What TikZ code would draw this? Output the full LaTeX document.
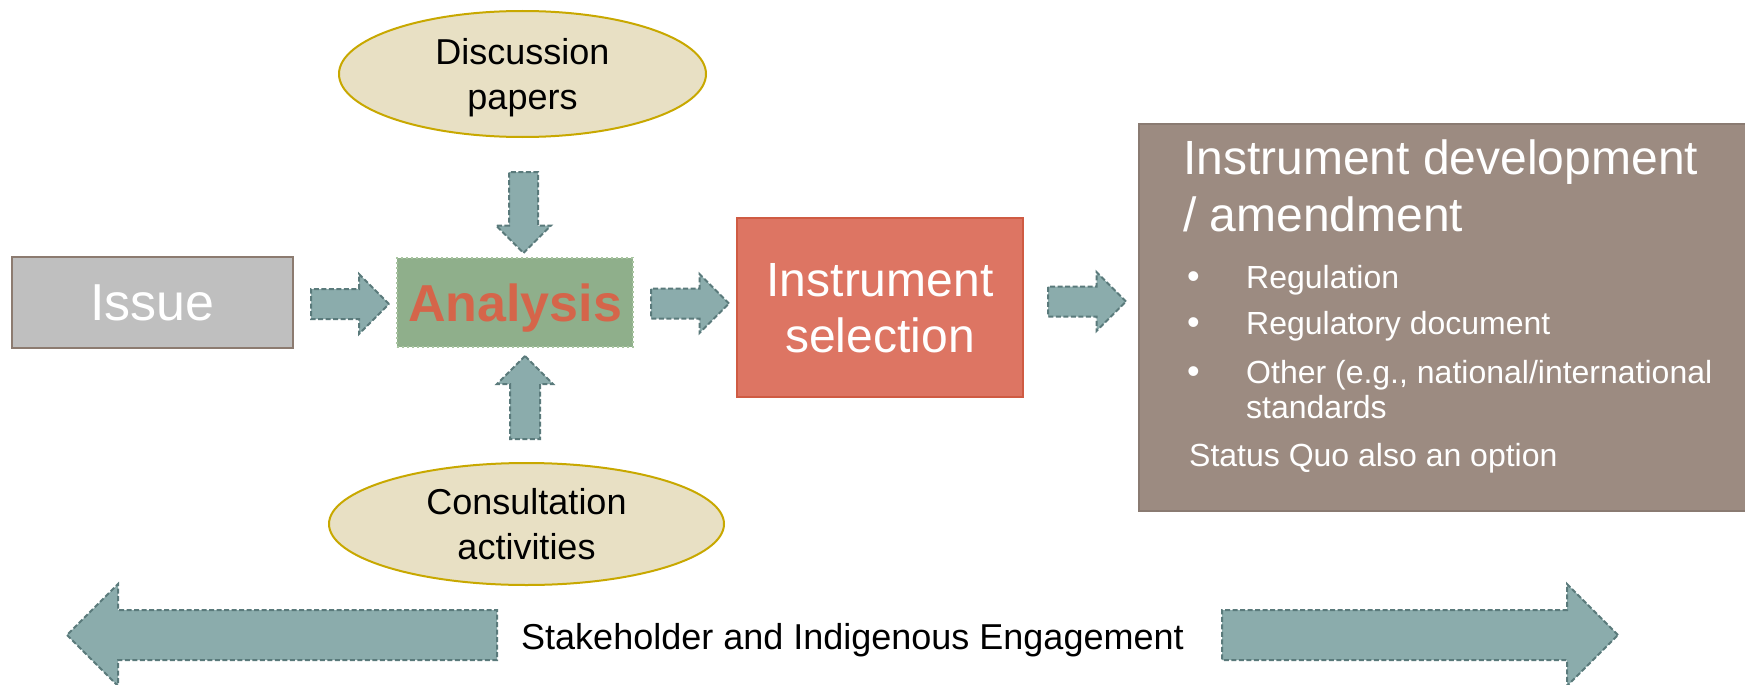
\documentclass[tikz,border=0pt]{standalone}
\usepackage{fontspec}
\setmainfont{Liberation Sans}
\usetikzlibrary{shapes.geometric,shapes.arrows}
\definecolor{arrowfill}{HTML}{8BACAC}
\definecolor{arrowline}{HTML}{5A7A7B}
\definecolor{issuefill}{HTML}{BFBFBF}
\definecolor{issueline}{HTML}{8C7B70}
\definecolor{anfill}{HTML}{8FAF8B}
\definecolor{anline}{HTML}{A9C5A1}
\definecolor{antext}{HTML}{D5654A}
\definecolor{selfill}{HTML}{DD7563}
\definecolor{selline}{HTML}{CF5B43}
\definecolor{devfill}{HTML}{9C8B81}
\definecolor{devline}{HTML}{8A7B72}
\definecolor{ovalfill}{HTML}{E8E0C4}
\definecolor{ovalline}{HTML}{C8A800}
\tikzstyle{blockarrow}=[single arrow,draw=arrowline,fill=arrowfill,
                        line width=2pt,dash pattern=on 5pt off 2.5pt,
                        inner xsep=0pt,anchor=tail]
\tikzstyle{smallarrow}=[blockarrow,minimum height=78pt,inner ysep=14pt,
                        single arrow head extend=14.5pt]
\tikzstyle{longarrow}=[blockarrow,inner ysep=24pt,
                       single arrow head extend=26pt]
\tikzstyle{oval}=[ellipse,draw=ovalline,fill=ovalfill,line width=2pt,
                  align=center,text depth=0pt,
                  font=\fontsize{36}{44.5}\selectfont]
\tikzstyle{item}=[anchor=base west,text=white,inner sep=0pt,
                  font=\fontsize{32}{35}\selectfont]

\begin{document}
\begin{tikzpicture}[x=1pt,y=-1pt]
    \useasboundingbox (0,0) rectangle (1745,685);
    \node (issue) at (152.5,302.5) [draw=issueline,fill=issuefill,line width=1.5pt,
        minimum width=281pt,minimum height=91pt,inner sep=0pt,text=white,
        font=\fontsize{52}{60}\selectfont] {Issue};
    \node (analysis) at (515,302.5) [draw=anline,fill=anfill,line width=2pt,
        dash pattern=on 2pt off 3pt,minimum width=236pt,minimum height=89pt,
        inner sep=0pt,text depth=0pt,text=antext,
        font=\fontsize{52}{60}\selectfont\bfseries] {Analysis};
    \node (select) at (880,307.5) [draw=selline,fill=selfill,line width=1.5pt,
        minimum width=286pt,minimum height=179pt,inner sep=0pt,text depth=0pt,
        text=white,align=center,font=\fontsize{48}{56}\selectfont]
        {Instrument\\selection};
    \node (disc) at (522.5,74) [oval,minimum width=367pt,minimum height=126pt]
        {Discussion\\papers};
    \node (consult) at (526.5,524) [oval,minimum width=395pt,minimum height=122pt]
        {Consultation\\activities};

    \node (a1) at (310,304) [smallarrow,single arrow head extend=15pt] {};
    \node (a2) at (650,303.5) [smallarrow] {};
    \node (a3) at (1047,301.5) [smallarrow] {};
    \node (a4) at (523.5,171) [smallarrow,rotate=-90,minimum height=81pt,
        inner ysep=13.5pt,single arrow head extend=13pt] {};
    \node (a5) at (525,440) [smallarrow,rotate=90,minimum height=83pt,
        single arrow head extend=13pt] {};

    % instrument development box, runs off the right edge
    \node (dev) at (1138,123) [anchor=north west,draw=devline,fill=devfill,
        line width=1.5pt,minimum width=620pt,minimum height=387pt] {};
    \node (devt1) at (1183,174) [item,font=\fontsize{48}{56}\selectfont]
        {Instrument development};
    \node (devt2) at (1183,231) [item,font=\fontsize{48}{56}\selectfont]
        {/ amendment};
    \foreach \y/\t [count=\i] in {288/Regulation,334/Regulatory document,
                                  383/{Other (e.g., national/international}} {
        \node (dot\i) at (1187,\y) [item,font=\fontsize{36}{35}\selectfont] {\textbullet};
        \node (it\i) at (1246,\y) [item] {\t};
    }
    \node (it4) at (1246,418) [item] {standards};
    \node (quo) at (1189,466) [item] {Status Quo also an option};

    % engagement arrows
    \node (left) at (498,635) [longarrow,rotate=180,minimum height=430pt] {};
    \node (right) at (1221,635) [longarrow,minimum height=396pt] {};
    \node (engage) at (521,649) [anchor=base west,inner sep=0pt,
        font=\fontsize{36}{44}\selectfont] {Stakeholder and Indigenous Engagement};
\end{tikzpicture}
\end{document}
